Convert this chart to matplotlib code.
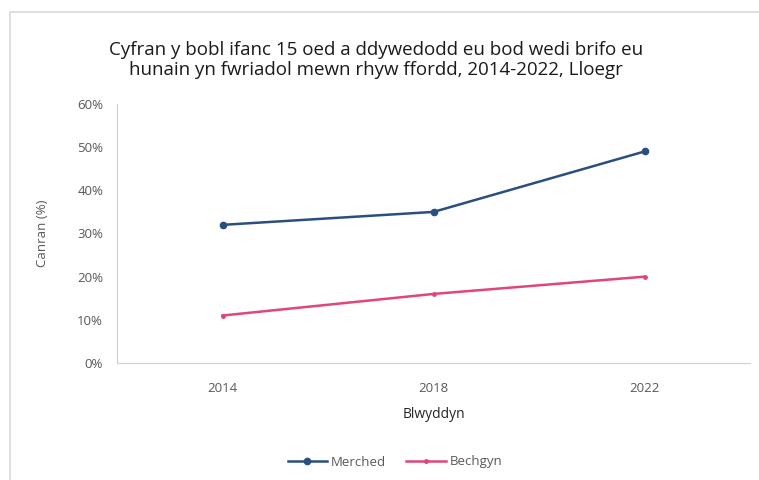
import matplotlib
matplotlib.use("Agg")
import matplotlib.pyplot as plt
from matplotlib.patches import Rectangle
from matplotlib.ticker import PercentFormatter

# data
years = ["2014", "2018", "2022"]
merched = [32, 35, 49]
bechgyn = [11, 16, 20]

title = ("Cyfran y bobl ifanc 15 oed a ddywedodd eu bod wedi brifo eu\n"
         "hunain yn fwriadol mewn rhyw ffordd, 2014-2022, Lloegr")

plt.rcParams['font.family'] = ['Open Sans', 'DejaVu Sans']

fig = plt.figure(figsize=(7.59, 4.8), dpi=100)
W, H = 759., 480.
# outer chart frame
fig.patches.append(Rectangle((10/W, -0.01), 1.0, 1 - 12/H + 0.01,
                             transform=fig.transFigure, fill=False,
                             edgecolor='#d9d9d9', linewidth=1.2))

ax = fig.add_axes([117/W, 1 - 363/H, (750 - 117)/W, (363 - 104)/H])
x = range(len(years))
ax.plot(x, merched, color='#2a4f7e', linewidth=1.8, marker='o', markersize=4.5,
        label='Merched')
ax.plot(x, bechgyn, color='#e0467c', linewidth=1.8, marker='o', markersize=2.5,
        label='Bechgyn')

ax.set_xlim(-0.5, 2.5)
ax.set_ylim(0, 60)
ax.set_yticks(range(0, 61, 10))
ax.yaxis.set_major_formatter(PercentFormatter(decimals=0))
ax.set_xticks(list(x))
ax.set_xticklabels(years)
for s in ['top', 'right']:
    ax.spines[s].set_visible(False)
for s in ['left', 'bottom']:
    ax.spines[s].set_color('#d0d0d0')
ax.tick_params(length=0, colors='#595959', labelsize=9.5, pad=10)
ax.tick_params(axis='x', pad=14)

ax.set_xlabel('Blwyddyn', fontsize=10, color='#262626', labelpad=8)
ax.set_ylabel('Canran (%)', fontsize=9.5, color='#595959', labelpad=20)

fig.text(0.495, 1 - 60/H, title, ha='center', va='center', fontsize=13.5,
         color='#1a1a1a', linespacing=1.2)

fig.legend(loc='center', bbox_to_anchor=(395/W, 1 - 462/H), ncol=2,
           frameon=False, fontsize=9.5, labelcolor='#595959',
           handlelength=3, columnspacing=1.5, handletextpad=0.3)

fig.savefig('out.png', dpi=100)
